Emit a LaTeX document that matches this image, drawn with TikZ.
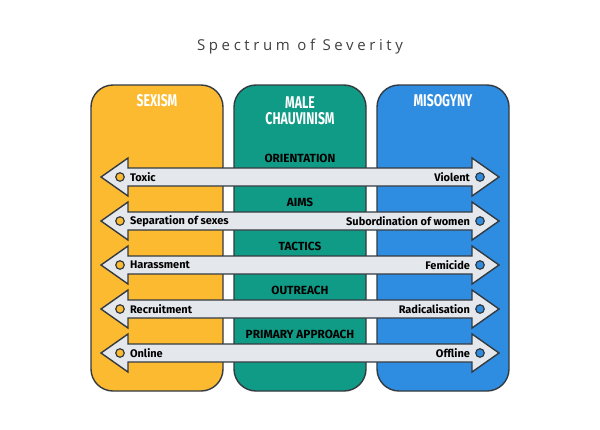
\documentclass[tikz,border=0pt]{standalone}
\usepackage{fontspec}
\setmainfont{Fira Sans}
\newfontfamily\headfont[FakeStretch=0.72]{Fira Sans}
\newfontfamily\captionfont[LetterSpace=24]{Open Sans}
\usetikzlibrary{positioning}

\definecolor{outline}{HTML}{333A40}
\definecolor{sexismfill}{HTML}{FCBA30}
\definecolor{chauvfill}{HTML}{109B87}
\definecolor{misofill}{HTML}{2E8CE1}
\definecolor{bandgray}{HTML}{E4E7EB}

\begin{document}
\begin{tikzpicture}[
			x=1pt, y=-1pt,
			column/.style={draw=outline, line width=1.4pt, rounded corners=22pt},
			heading/.style={font=\headfont\bfseries\fontsize{17}{19}\selectfont, text=white, align=center},
			band/.style={draw=outline, line width=1.4pt, fill=bandgray, line join=miter},
			catlabel/.style={font=\bfseries\fontsize{11.8}{13}\selectfont, text=black},
			endlabel/.style={font=\bfseries\fontsize{11}{13}\selectfont, text=black, inner sep=1pt},
			dot/.style={circle, draw=outline, line width=1.2pt, minimum size=8.5pt, inner sep=0pt}
		]
		\useasboundingbox (0,0) rectangle (600,429);

		% Title
		\node[font=\captionfont\fontsize{15}{17}\selectfont, text=black!75] (caption) at (300,47) {Spectrum of Severity};

		% Columns
		\draw[column, fill=sexismfill] (91,85) rectangle (223,391);
		\draw[column, fill=chauvfill] (234,85) rectangle (366,391);
		\draw[column, fill=misofill] (377,85) rectangle (509,391);

		\node[heading] (sexism) at (157,101) {SEXISM};
		\node[heading] (chauvinism) at (300,111) {MALE\\[-3pt]CHAUVINISM};
		\node[heading] (misogyny) at (443,101) {MISOGYNY};

		% Double arrows, top to bottom
		\foreach \cat/\mild/\severe [count=\i from 0] in {
				ORIENTATION/Toxic/Violent,
				AIMS/Separation of sexes/Subordination of women,
				TACTICS/Harassment/Femicide,
				OUTREACH/Recruitment/Radicalisation,
				PRIMARY APPROACH/Online/Offline
			} {
				\pgfmathsetmacro{\y}{177 + \i*44}
				\draw[band] (101,\y) -- (128,\y-19) -- (128,\y-9) -- (472,\y-9) -- (472,\y-19)
					-- (499,\y) -- (472,\y+19) -- (472,\y+9) -- (128,\y+9) -- (128,\y+19) -- cycle;
				\node[catlabel] (cat\i) at (300,\y-19) {\cat};
				\node[dot, fill=sexismfill] (ldot\i) at (120,\y) {};
				\node[dot, fill=misofill] (rdot\i) at (480,\y) {};
				\node[endlabel, right=4pt of ldot\i] (mild\i) {\mild};
				\node[endlabel, left=4pt of rdot\i] (severe\i) {\severe};
			}

	\end{tikzpicture}
\end{document}
